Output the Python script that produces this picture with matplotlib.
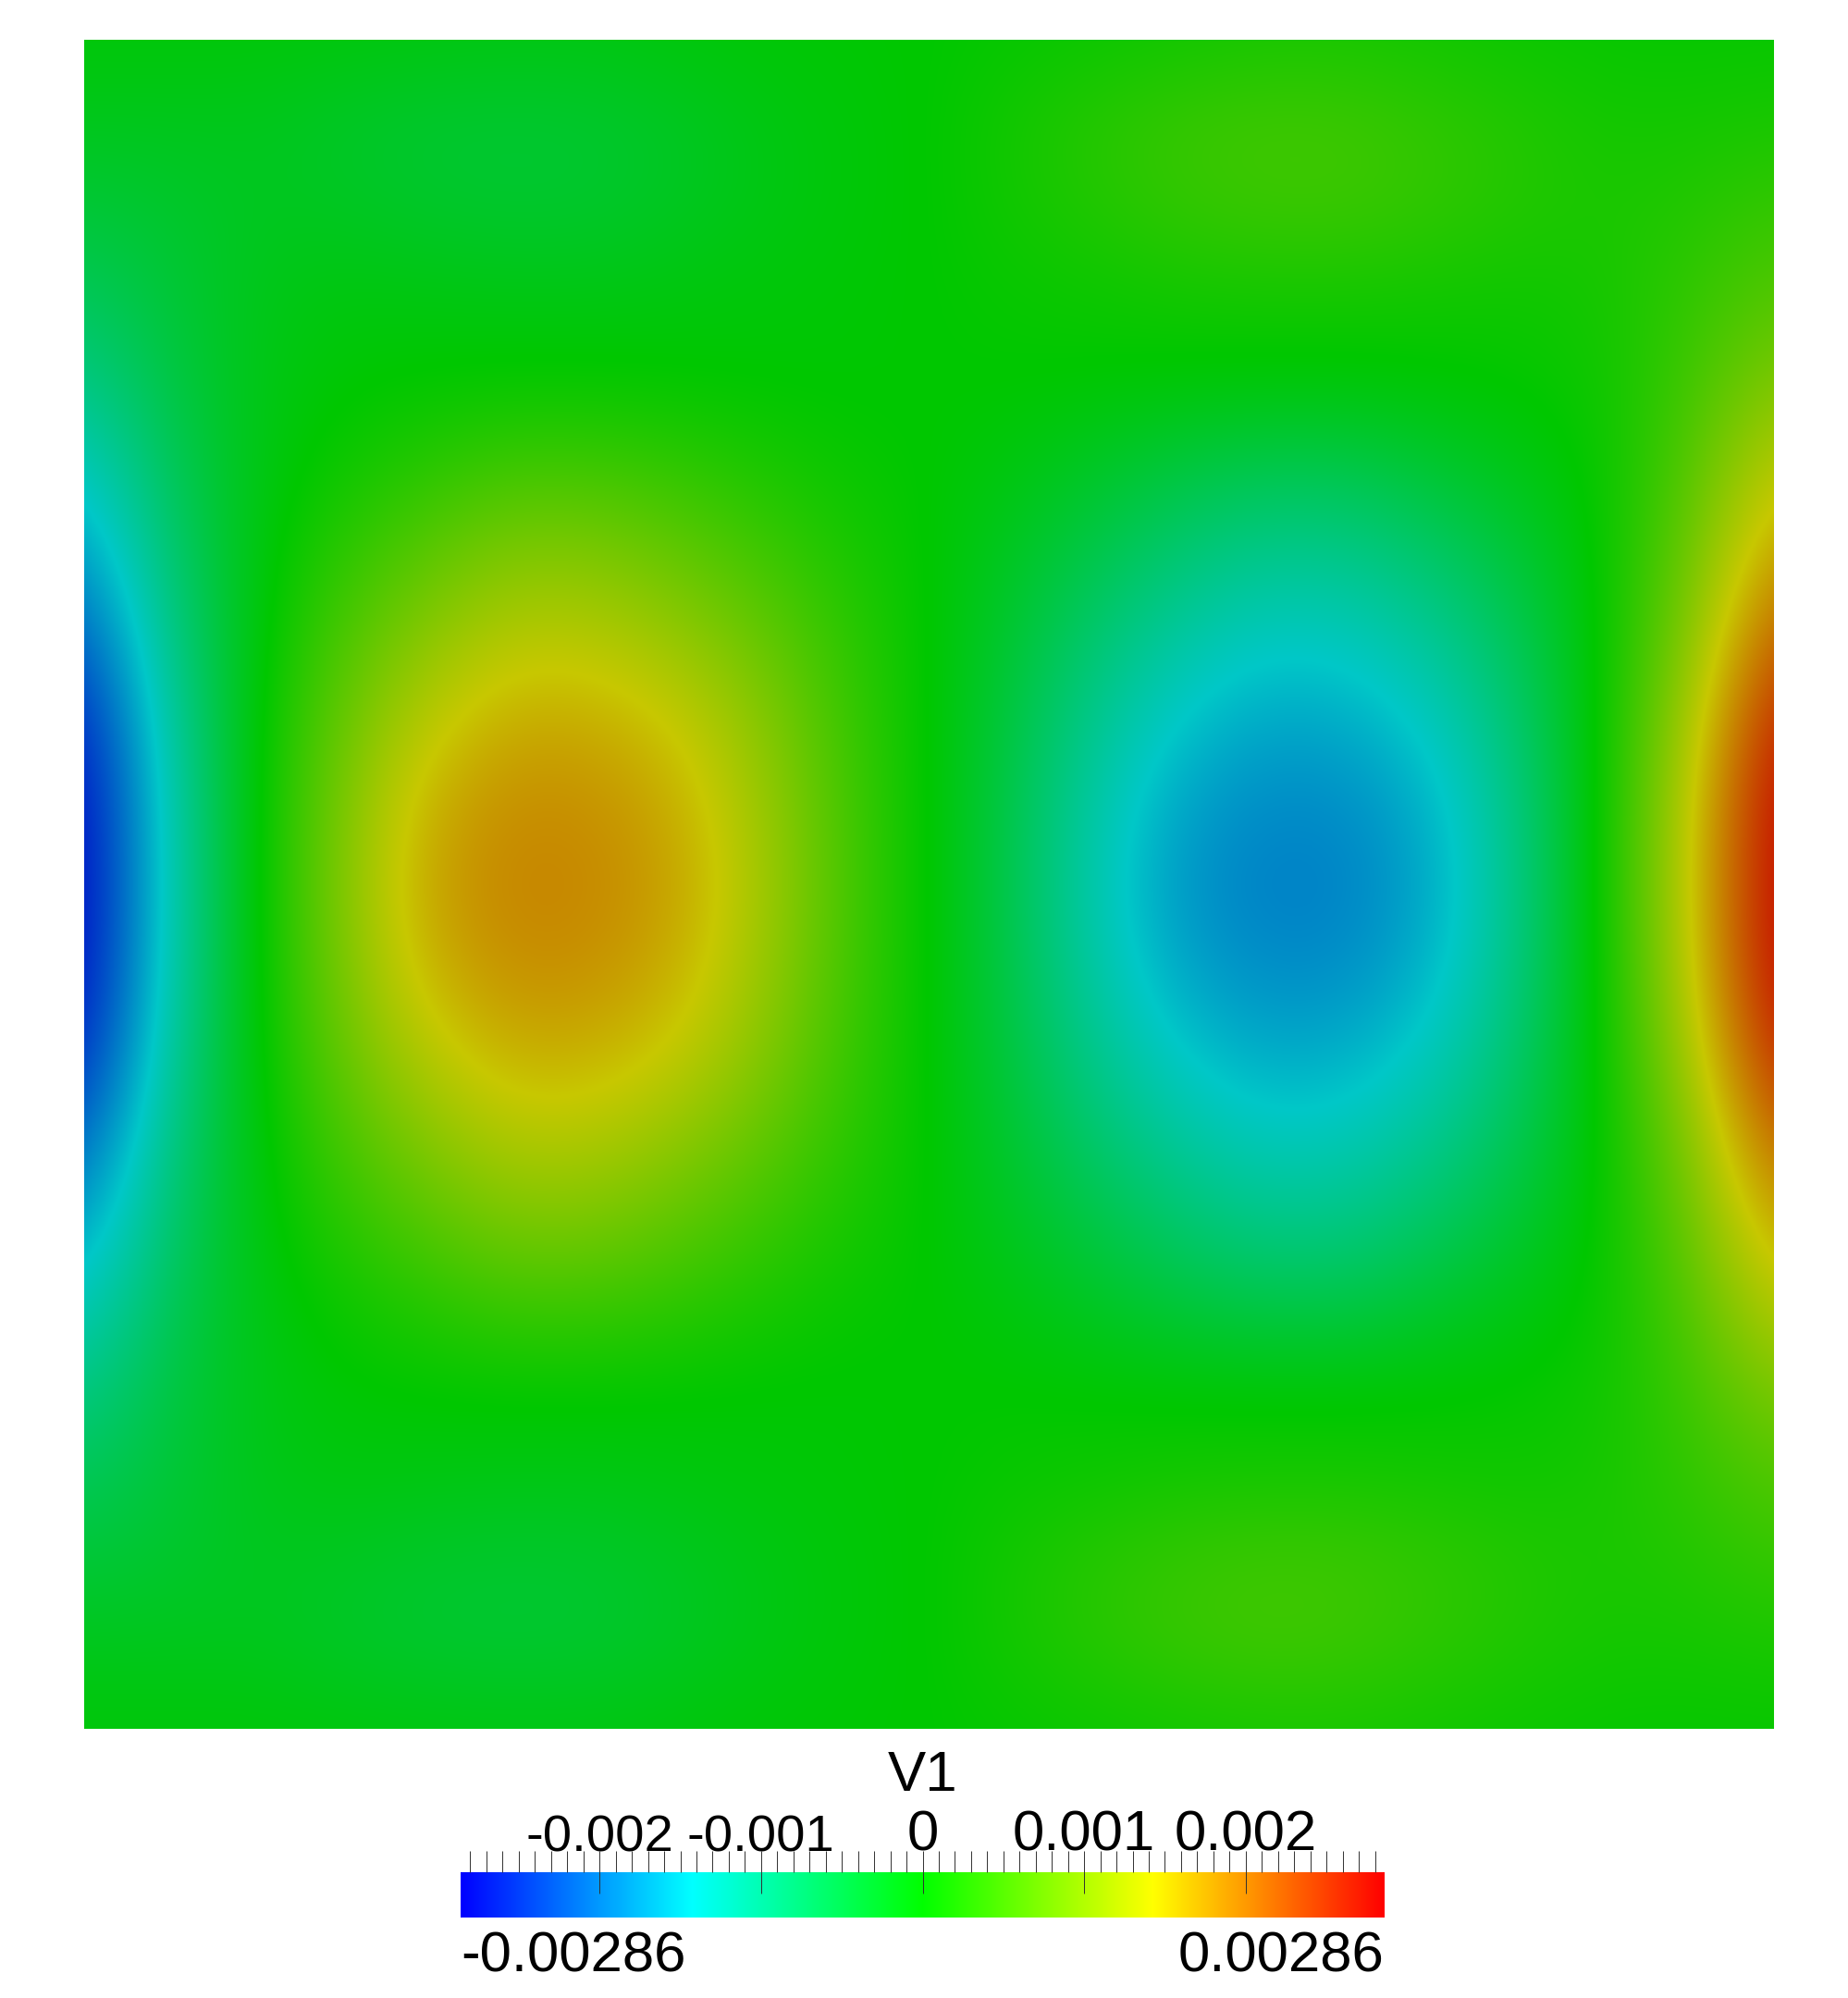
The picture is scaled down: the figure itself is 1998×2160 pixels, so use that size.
import numpy as np
import matplotlib
matplotlib.use("Agg")
import matplotlib.pyplot as plt
from matplotlib.colors import LinearSegmentedColormap, Normalize
from matplotlib.colorbar import ColorbarBase

W, H = 1998, 2160
VMAX = 0.00286
SCALE = 1e-3
RAMP = ["#0000ff", "#00ffff", "#00ff00", "#ffff00", "#ff0000"]
SHADE = 0.784

row_00 = [-.06,-.06,-.06,-.08,-.10,-.12,-.12,-.08,-.04,-.02,0,.04,.08,.12,.16,.16,.12,.08,.05,.04,.05]
row_01 = [-.20,-.20,-.20,-.28,-.34,-.36,-.34,-.26,-.14,-.06,0,.14,.28,.40,.46,.44,.34,.24,.14,.14,.18]
row_02 = [-.40,-.32,-.22,-.24,-.30,-.33,-.32,-.24,-.14,-.06,0,.12,.24,.36,.42,.42,.34,.24,.18,.24,.38]
row_03 = [-.65,-.40,-.18,-.10,-.12,-.14,-.14,-.10,-.06,-.03,0,.05,.08,.13,.15,.15,.12,.10,.15,.34,.60]
row_04 = [-.96,-.48,-.16,-.03,0,.02,.02,0,-.02,-.02,0,.01,0,-.02,-.03,-.03,0,.03,.10,.44,.92]
row_05 = [-1.38,-.62,-.15,.08,.25,.42,.42,.32,.18,.05,0,-.10,-.26,-.42,-.52,-.50,-.32,-.13,.06,.58,1.35]
row_06 = [-1.78,-.78,-.12,.28,.60,.88,.88,.68,.44,.18,0,-.24,-.52,-.80,-.98,-.95,-.70,-.36,.05,.74,1.75]
row_07 = [-2.22,-.94,-.10,.50,.95,1.28,1.28,1.05,.72,.32,0,-.36,-.80,-1.15,-1.36,-1.32,-1.04,-.58,.05,.92,2.20]
row_08 = [-2.62,-1.12,-.06,.70,1.30,1.62,1.62,1.42,.98,.42,0,-.47,-1.04,-1.46,-1.66,-1.62,-1.34,-.76,.08,1.16,2.62]
row_09 = [-2.82,-1.24,-.05,.84,1.58,1.84,1.83,1.63,1.13,.49,0,-.55,-1.22,-1.70,-1.86,-1.84,-1.56,-.90,.10,1.33,2.84]
row_10 = [-2.86,-1.27,-.05,.90,1.68,1.92,1.90,1.72,1.20,.52,0,-.58,-1.30,-1.80,-1.96,-1.93,-1.65,-.95,.12,1.38,2.86]
row_11 = [-2.82,-1.24,-.05,.84,1.58,1.84,1.83,1.63,1.13,.49,0,-.55,-1.22,-1.70,-1.86,-1.84,-1.56,-.90,.10,1.33,2.84]
row_12 = [-2.62,-1.12,-.06,.70,1.30,1.62,1.62,1.42,.98,.42,0,-.47,-1.04,-1.46,-1.66,-1.62,-1.34,-.76,.08,1.16,2.62]
row_13 = [-2.22,-.94,-.10,.50,.95,1.28,1.28,1.05,.72,.32,0,-.36,-.80,-1.15,-1.36,-1.32,-1.04,-.58,.05,.92,2.20]
row_14 = [-1.78,-.78,-.12,.28,.60,.88,.88,.68,.44,.18,0,-.24,-.52,-.80,-.98,-.95,-.70,-.36,.05,.74,1.75]
row_15 = [-1.38,-.62,-.15,.08,.25,.42,.42,.32,.18,.05,0,-.10,-.26,-.42,-.52,-.50,-.32,-.13,.06,.58,1.35]
row_16 = [-.96,-.48,-.16,-.03,0,.02,.02,0,-.02,-.02,0,.01,0,-.02,-.03,-.03,0,.03,.10,.44,.92]
row_17 = [-.65,-.40,-.18,-.10,-.12,-.14,-.14,-.10,-.06,-.03,0,.05,.08,.13,.15,.15,.12,.10,.15,.34,.60]
row_18 = [-.40,-.32,-.22,-.24,-.30,-.33,-.32,-.24,-.14,-.06,0,.14,.28,.38,.44,.42,.34,.24,.18,.24,.38]
row_19 = [-.20,-.20,-.20,-.28,-.34,-.36,-.34,-.26,-.14,-.06,0,.14,.28,.40,.46,.42,.32,.22,.14,.14,.18]
row_20 = [-.06,-.06,-.06,-.08,-.10,-.12,-.12,-.08,-.04,-.02,0,.04,.08,.12,.16,.16,.12,.08,.05,.04,.05]
rows = [row_00,row_01,row_02,row_03,row_04,row_05,row_06,row_07,row_08,row_09,row_10,
        row_11,row_12,row_13,row_14,row_15,row_16,row_17,row_18,row_19,row_20]

major_ticks = [-0.002, -0.001, 0, 0.001, 0.002]
major_labels = ["-0.002", "-0.001", "0", "0.001", "0.002"]
minor_ticks = [i * 1e-4 for i in range(-28, 29) if i % 10]
title = "V1"
min_label = "-0.00286"
max_label = "0.00286"

plt.rcParams["font.family"] = ["Liberation Sans", "DejaVu Sans"]
fig = plt.figure(figsize=(W / 100, H / 100), dpi=100, facecolor="white")

field = np.array(rows) * SCALE
norm = Normalize(-VMAX, VMAX)
ramp_rgb = [tuple(SHADE * c for c in matplotlib.colors.to_rgb(h)) for h in RAMP]
cmap_field = LinearSegmentedColormap.from_list("field", ramp_rgb, N=2048)
cmap_bar = LinearSegmentedColormap.from_list("bar", RAMP, N=1024)

ax = fig.add_axes([91 / W, (H - 1869) / H, 1826 / W, 1826 / H])
n = field.shape[0]
ax.imshow(field, cmap=cmap_field, norm=norm, interpolation="bicubic",
          interpolation_stage="data", aspect="auto",
          extent=(-0.5, n - 0.5, n - 0.5, -0.5))
ax.set_xlim(0, n - 1)
ax.set_ylim(n - 1, 0)
ax.axis("off")

cax = fig.add_axes([498 / W, (H - 2073) / H, 999 / W, 49 / H])
cb = ColorbarBase(cax, cmap=cmap_bar, norm=norm, orientation="horizontal")
cb.outline.set_visible(False)
cax.xaxis.set_ticks_position("top")
cax.xaxis.set_label_position("top")
cax.set_xticks(major_ticks, labels=major_labels)
cax.set_xticks(minor_ticks, minor=True)
cax.tick_params(axis="x", which="major", direction="inout", length=33, width=0.7,
                color="#303030", labelsize=44.5, pad=-9, labelcolor="black")
cax.tick_params(axis="x", which="minor", direction="out", length=16.5, width=0.7,
                color="#303030")
for lab in cax.get_xticklabels():
    if lab.get_text().startswith("-"):
        lab.set_fontsize(40.5)
cax.set_yticks([])
cax.text(0, 2.8, title, transform=cax.get_xaxis_transform(), ha="center", va="baseline",
         fontsize=44.5)
cax.text(-VMAX, -0.3, min_label, transform=cax.get_xaxis_transform(), ha="left",
         va="top", fontsize=44.5)
cax.text(VMAX, -0.3, max_label, transform=cax.get_xaxis_transform(), ha="right",
         va="top", fontsize=44.5)

fig.savefig("out.png", dpi=100, facecolor="white")
